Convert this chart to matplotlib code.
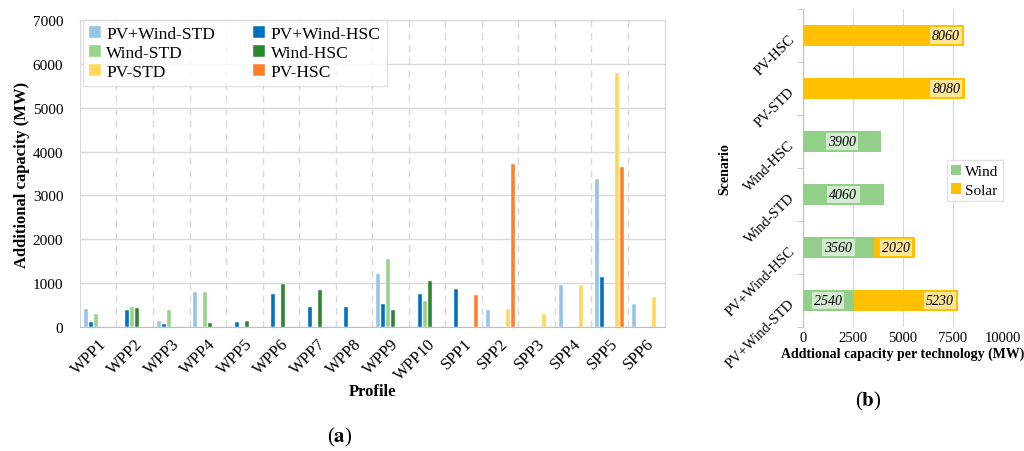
import matplotlib.pyplot as plt
import numpy as np

plt.rcParams['font.family'] = ['Liberation Serif', 'DejaVu Serif']
plt.rcParams['mathtext.fontset'] = 'stix'

profiles = ["WPP1", "WPP2", "WPP3", "WPP4", "WPP5", "WPP6", "WPP7", "WPP8",
            "WPP9", "WPP10", "SPP1", "SPP2", "SPP3", "SPP4", "SPP5", "SPP6"]
pv_wind_std = [400, 0, 130, 800, 0, 0, 0, 0, 1210, 0, 0, 390, 0, 950, 3370, 530]
pv_wind_hsc = [110, 390, 60, 0, 105, 760, 450, 450, 515, 745, 875, 0, 0, 0, 1150, 0]
wind_std = [290, 450, 390, 800, 0, 0, 0, 0, 1550, 585, 0, 0, 0, 0, 0, 0]
wind_hsc = [0, 440, 0, 85, 135, 985, 840, 0, 380, 1050, 0, 0, 0, 0, 0, 0]
pv_std = [0, 0, 0, 0, 0, 0, 0, 0, 0, 0, 0, 405, 295, 950, 5800, 680]
pv_hsc = [0, 0, 0, 0, 0, 0, 0, 0, 0, 0, 725, 3720, 0, 0, 3650, 0]

series_names = ["PV+Wind-STD", "PV+Wind-HSC", "Wind-STD", "Wind-HSC", "PV-STD", "PV-HSC"]
series_vals = [pv_wind_std, pv_wind_hsc, wind_std, wind_hsc, pv_std, pv_hsc]
series_cols = ["#93C5EA", "#0070C0", "#97D38B", "#2E8531", "#FFD75A", "#FF7F2A"]

scenarios = ["PV+Wind-STD", "PV+Wind-HSC", "Wind-STD", "Wind-HSC", "PV-STD", "PV-HSC"]
wind_cap = [2540, 3560, 4060, 3900, 0, 0]
solar_cap = [5230, 2020, 0, 0, 8080, 8060]

fig = plt.figure(figsize=(10.24, 4.52), dpi=100)

# ---- panel (a)
ax = fig.add_axes([0.078, 0.2743, 0.571, 0.679])
x = np.arange(len(profiles))
step = 0.137
bars = []
for i, (name, vals, col) in enumerate(zip(series_names, series_vals, series_cols)):
    b = ax.bar(x + (i - 2.5) * step, vals, width=0.11, color=col, label=name,
               edgecolor="white", linewidth=0.3, zorder=3)
    bars.append(b)

ax.set_xlim(-0.5, len(profiles) - 0.5)
ax.set_ylim(0, 7000)
ax.set_yticks(range(0, 7001, 1000))
ax.set_xticks(x)
ax.set_xticklabels(profiles, rotation=45, ha="right", rotation_mode="anchor", fontsize=12)
ax.set_xticks(np.arange(0.5, len(profiles) - 0.5, 1), minor=True)
ax.tick_params(axis="y", labelsize=11, length=0, pad=12)
ax.tick_params(axis="x", length=0, pad=6)
ax.tick_params(axis="x", which="minor", length=0)
ax.grid(axis="y", color="#D9D9D9", linewidth=1, zorder=0)
ax.grid(axis="x", which="minor", color="#D9D9D9", linestyle=(0, (5, 4)), linewidth=1, zorder=0)
for s in ax.spines.values():
    s.set_color("#D9D9D9")
ax.spines["bottom"].set_color("#BFBFBF")
ax.set_ylabel("Additional capacity (MW)", fontsize=12, fontweight="bold", labelpad=2)
ax.set_xlabel("Profile", fontsize=12, fontweight="bold", labelpad=0)

order = [0, 2, 4, 1, 3, 5]
leg = ax.legend([bars[k] for k in order], [series_names[k] for k in order], ncol=2,
                loc="upper left", bbox_to_anchor=(0.005, 1.0), borderaxespad=0,
                fontsize=12.5, frameon=True, fancybox=False, edgecolor="#D9D9D9",
                handlelength=0.7, handleheight=0.7, handletextpad=0.3,
                columnspacing=2.2, labelspacing=0.15, borderpad=0.35)
leg.get_frame().set_linewidth(1)

fig.text(0.332, 0.02, r"($\mathbf{a}$)", ha="center", fontsize=15)

# ---- panel (b)
bx = fig.add_axes([0.784, 0.2743, 0.1955, 0.704])
y = np.arange(len(scenarios))
wb = bx.barh(y, wind_cap, height=0.4, color="#92D08A", label="Wind", zorder=3)
sb = bx.barh(y, solar_cap, left=wind_cap, height=0.4, color="#FFC000", label="Solar", zorder=3)
box = dict(boxstyle="square,pad=0.15", facecolor="white", alpha=0.6, edgecolor="none")
for yi, w, s in zip(y, wind_cap, solar_cap):
    if w > 0:
        bx.text(w / 2, yi, str(w), ha="center", va="center", fontsize=10,
                style="italic", bbox=box, zorder=4)
    if s > 0:
        bx.annotate(str(s), (w + s, yi), xytext=(-3, 0), textcoords="offset points",
                    ha="right", va="center", fontsize=10, style="italic", bbox=box, zorder=4)

bx.set_xlim(0, 10000)
bx.set_ylim(-0.5, len(scenarios) - 0.5)
bx.set_xticks([0, 2500, 5000, 7500, 10000])
bx.set_yticks(y)
bx.set_yticklabels(scenarios, rotation=45, ha="right", rotation_mode="anchor", fontsize=10.5)
bx.set_yticks(np.arange(-0.5, len(scenarios), 1), minor=True)
bx.tick_params(axis="y", which="major", length=0, pad=8)
bx.tick_params(axis="y", which="minor", length=4, color="#BFBFBF")
bx.tick_params(axis="x", length=0, labelsize=10.5, pad=3)
bx.grid(axis="x", color="#D9D9D9", linewidth=0.8, zorder=0)
for k in ["top", "right", "bottom"]:
    bx.spines[k].set_visible(False)
bx.spines["left"].set_color("#BFBFBF")
bx.set_xlabel("Addtional capacity per technology (MW)", fontsize=10, fontweight="bold", labelpad=2)
bx.set_ylabel("Scenario", fontsize=10, fontweight="bold", labelpad=-6)
lb = bx.legend(loc="center right", bbox_to_anchor=(1.0, 0.46), borderaxespad=0,
               fontsize=11, frameon=True, fancybox=False, edgecolor="#D9D9D9",
               handlelength=0.6, handleheight=0.7, handletextpad=0.3,
               labelspacing=0.3, borderpad=0.3)

fig.text(0.848, 0.1, r"($\mathbf{b}$)", ha="center", fontsize=15)

fig.savefig("out.png", dpi=100)
